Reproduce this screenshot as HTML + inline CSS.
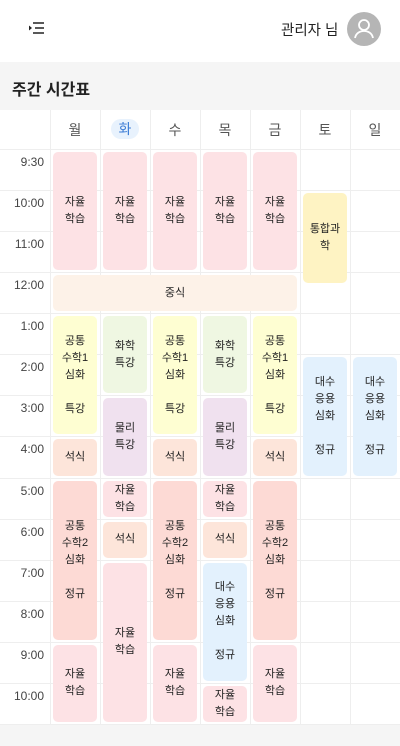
<!DOCTYPE html>
<html><head><meta charset="utf-8">
<style>
*{box-sizing:border-box;margin:0;padding:0}
body{width:400px;height:746px;overflow:hidden;background:#f5f5f5;font-family:"Liberation Sans","Noto Sans CJK KR",sans-serif;position:relative}
#top{position:absolute;left:0;top:0;width:400px;height:62px;background:#fff}
#title{position:absolute;left:12px;top:76px;font-size:16px;font-weight:bold;color:#222}
#grid{position:absolute;left:0;top:110px;width:400px;height:615px;background:#fff}
.vl{position:absolute;width:1px;background:#eeeeee}
.hl{position:absolute;height:1px;background:#eeeeee}
.tl{position:absolute;left:0;width:44px;text-align:right;font-size:12px;color:#444}
.dl{position:absolute;width:50px;text-align:center;font-size:14px;color:#555;top:10px}
.ev{position:absolute;border-radius:5px;display:flex;align-items:center;justify-content:center;text-align:center;font-size:11px;line-height:17px;color:#222;white-space:pre-line}
</style></head><body>
<div id="top">
  <svg style="position:absolute;left:29px;top:21px" width="16" height="14" viewBox="0 0 16 14">
    <path d="M4 2h11M6 7h9M4 12h11" stroke="#222" stroke-width="1.6"/><path d="M0 4.5l3 2.5-3 2.5z" fill="#222"/>
  </svg>
  <div style="position:absolute;left:281px;top:19px;font-size:14.5px;color:#222">관리자 님</div>
  <svg style="position:absolute;left:347px;top:12px" width="34" height="34" viewBox="0 0 34 34">
    <circle cx="17" cy="17" r="17" fill="#b5b5b5"/><circle cx="17" cy="13" r="5" fill="none" stroke="#fff" stroke-width="1.8"/>
    <path d="M8 26c1-5 5-7 9-7s8 2 9 7" fill="none" stroke="#fff" stroke-width="1.8"/>
  </svg>
</div>
<div id="title">주간 시간표</div>
<div id="grid"></div>
<script>
const days=['월','화','수','목','금','토','일'];
const times=['9:30','10:00','11:00','12:00','1:00','2:00','3:00','4:00','5:00','6:00','7:00','8:00','9:00','10:00'];
const evDay=[0,1,2,3,4, 0, 0,0,0,0, 1,1,1,1,1,1, 2,2,2,2, 3,3,3,3,3,3,3, 4,4,4,4, 5,5,6];
const evStart=[0,0,0,0,0, 3, 4,7,8,12, 4,6,8,9,10,2-0, 4,7,8,12, 4,6,8,9,10,13,2-0, 4,7,8,12, 1,5,5];
const evEnd=[3,3,3,3,3, 4, 7,8,12,14, 6,8,9,10,14,2-0, 7,8,12,14, 6,8,9,10,13,14,2-0, 7,8,12,14, 3.3,8,8];
const evSpan=[1,1,1,1,1, 5, 1,1,1,1, 1,1,1,1,1,0, 1,1,1,1, 1,1,1,1,1,1,0, 1,1,1,1, 1,1,1];
const evLabel=['자율\n학습','자율\n학습','자율\n학습','자율\n학습','자율\n학습','중식',
'공통\n수학1\n심화\n\n특강','석식','공통\n수학2\n심화\n\n정규','자율\n학습',
'화학\n특강','물리\n특강','자율\n학습','석식','자율\n학습','',
'공통\n수학1\n심화\n\n특강','석식','공통\n수학2\n심화\n\n정규','자율\n학습',
'화학\n특강','물리\n특강','자율\n학습','석식','대수\n응용\n심화\n\n정규','자율\n학습','',
'공통\n수학1\n심화\n\n특강','석식','공통\n수학2\n심화\n\n정규','자율\n학습',
'통합과\n학','대수\n응용\n심화\n\n정규','대수\n응용\n심화\n\n정규'];
const colors={'자율':'#fde2e5','중식':'#fdf2e8','공통1':'#fefed2','석식':'#fde5da','공통2':'#fddad5','화학':'#eff7e2','물리':'#f0e1ef','대수':'#e3f1fd','통합':'#fef3c3'};
const G=document.getElementById('grid');
const X0=50,CW=50,HY=39,RH=41.07;
const xOf=d=>X0+d*CW, yOf=r=>HY+r*RH;
function colorFor(l){if(l.startsWith('자율'))return colors['자율'];if(l==='중식')return colors['중식'];if(l.includes('수학1'))return colors['공통1'];if(l.includes('수학2'))return colors['공통2'];if(l==='석식')return colors['석식'];if(l.startsWith('화학'))return colors['화학'];if(l.startsWith('물리'))return colors['물리'];if(l.startsWith('대수'))return colors['대수'];return colors['통합'];}
// header row line
let h=document.createElement('div');h.className='hl';h.style.cssText=`left:0;top:${HY}px;width:400px`;
G.appendChild(h);
for(let r=1;r<=times.length;r++){const l=document.createElement('div');l.className='hl';l.style.cssText=`left:0;top:${Math.round(yOf(r))}px;width:400px`;
G.appendChild(l);}
for(let d=0;d<=days.length;d++){const l=document.createElement('div');l.className='vl';l.style.cssText=`left:${xOf(d)}px;top:0;height:615px`;
G.appendChild(l);}
days.forEach((d,i)=>{const e=document.createElement('div');e.className='dl';e.style.left=xOf(i)+'px';

if(d==='화'){e.innerHTML='<span style="display:inline-block;background:#e8f2fd;color:#3a7bd5;border-radius:10px;width:28px;line-height:20px;margin-top:-1px">화</span>';}else{e.textContent=d;e.style.lineHeight='20px';}
G.appendChild(e);});
times.forEach((t,i)=>{const e=document.createElement('div');e.className='tl';e.style.top=(yOf(i)+6)+'px';e.textContent=t;
G.appendChild(e);});
evDay.forEach((d,i)=>{if(!evSpan[i])return;const e=document.createElement('div');e.className='ev';
const x=xOf(d)+3,w=CW*evSpan[i]-6,y=yOf(evStart[i])+3,hh=yOf(evEnd[i])-yOf(evStart[i])-5;
e.style.cssText+=`left:${x}px;top:${y}px;width:${w}px;height:${hh}px;background:${colorFor(evLabel[i])}`;
e.textContent=evLabel[i];
G.appendChild(e);});
</script>
</body></html>
